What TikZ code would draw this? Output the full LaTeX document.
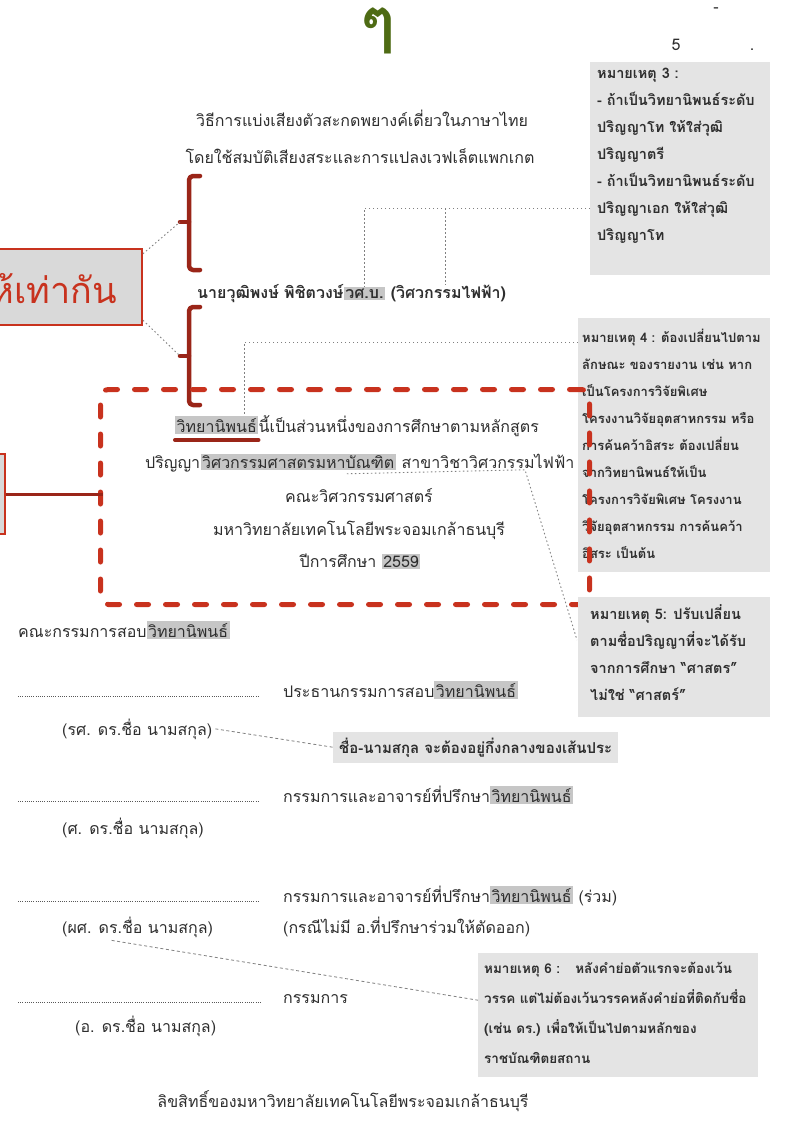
\documentclass[tikz,border=0pt]{standalone}
\usepackage{fontspec}
\setmainfont[Script=Thai]{Loma}
\usepackage{xcolor}
\usetikzlibrary{positioning}

\definecolor{inkgray}{HTML}{2E2E2E}
\definecolor{notegray}{HTML}{E4E4E4}
\definecolor{hlgray}{HTML}{C6C6C6}
\definecolor{boxfill}{HTML}{D9D9D9}
\definecolor{boxred}{HTML}{C8321E}
\definecolor{darkred}{HTML}{9A2518}
\definecolor{leafgreen}{HTML}{4E6B14}

\newcommand{\graymark}[1]{{\setlength{\fboxsep}{1.5pt}\colorbox{hlgray}{#1}}}

\tikzset{
  doc/.style={font=\fontsize{16}{19}\selectfont, text=inkgray, inner sep=0pt, anchor=base},
  notebox/.style={fill=notegray, anchor=north west, inner sep=0pt},
  notetext/.style={font=\fontsize{13.5}{27}\selectfont\bfseries, text=inkgray, align=left, anchor=north west, inner sep=0pt},
  leader/.style={inkgray!80, line width=0.6pt, dash pattern=on 0.8pt off 1.4pt},
  dotline/.style={gray, line width=0.9pt, dash pattern=on 1.5pt off 2.5pt},
  dashline/.style={gray, line width=0.8pt, dash pattern=on 3pt off 2.5pt},
  redbox/.style={draw=boxred, line width=2.5pt, fill=boxfill},
  bracket/.style={draw=darkred, line width=4.5pt, line cap=round, line join=round},
  reddash/.style={draw=boxred, line width=5pt, line cap=round, dash pattern=on 12pt off 17pt, rounded corners=8pt},
}

\begin{document}
\begin{tikzpicture}[x=1pt,y=-1pt]
\useasboundingbox (0,0) rectangle (795,1146);
\clip (0,0) rectangle (795,1146);
\fill[white] (0,0) rectangle (795,1146);

% top of page
\node[font=\fontsize{62}{62}\selectfont\bfseries, text=leafgreen, inner sep=0pt, anchor=base] (topmark) at (378,42) {ๆ};
\node[doc] (pgdash) at (716,12) {-};
\node[doc] (pgnum) at (676,50) {5};
\node[doc] (pgdot) at (752,50) {.};

% title and author
\node[doc] (titleA) at (362,126) {วิธีการแบ่งเสียงตัวสะกดพยางค์เดี่ยวในภาษาไทย};
\node[doc] (titleB) at (360,163) {โดยใช้สมบัติเสียงสระและการแปลงเวฟเล็ตแพกเกต};

\node[doc, anchor=base west, font=\fontsize{16}{19}\selectfont\bfseries] (author) at (197,298) {นายวุฒิพงษ์ พิชิตวงษ์~};
\node[doc, anchor=base west, font=\fontsize{16}{19}\selectfont\bfseries] (degree) at (author.base east) {\graymark{วศ.บ.}};
\node[doc, anchor=base west, font=\fontsize{16}{19}\selectfont\bfseries] (field) at (degree.base east) {~(วิศวกรรมไฟฟ้า)};

% note 3
\node[notebox, minimum width=180, minimum height=213] (note3) at (590,62) {};
\node[notetext, font=\fontsize{14.5}{27}\selectfont\bfseries] (note3txt) at (597,68) {หมายเหตุ 3 :\\
- ถ้าเป็นวิทยานิพนธ์ระดับ\\
ปริญญาโท ให้ใส่วุฒิ\\
ปริญญาตรี\\
- ถ้าเป็นวิทยานิพนธ์ระดับ\\
ปริญญาเอก ให้ใส่วุฒิ\\
ปริญญาโท};
\coordinate (n3hook) at (590,208);
\draw[dotline] (n3hook) -- (n3hook -| degree.north) -- (degree.north);
\draw[dotline] (n3hook -| field.north) -- (field.north);

% brackets and the box on the left
\draw[bracket, rounded corners=4pt] (200,176) -- (189,176) -- (189,270) -- (200,270);
\draw[bracket] (189,222) -- (180,222);
\draw[bracket, rounded corners=4pt] (200,307) -- (189,307) -- (189,405) -- (200,405);
\draw[bracket] (189,356) -- (180,356);
\coordinate (brtipA) at (180,222);
\coordinate (brtipB) at (180,356);

\node[redbox, anchor=east, minimum width=240, minimum height=76, text width=200, align=right,
  inner xsep=25pt, font=\fontsize{36}{40}\selectfont, text=boxred] (eqbox) at (143,287) {ให้เท่ากัน};
\draw[dotline] ([yshift=-6pt]eqbox.north east) -- (brtipA);
\draw[dotline] ([yshift=6pt]eqbox.south east) -- (brtipB);

% note 4
\node[notebox, minimum width=192, minimum height=254] (note4) at (578,318) {};
\node[notetext, font=\fontsize{13}{27}\selectfont\bfseries] (note4txt) at (582,329) {หมายเหตุ 4 : ต้องเปลี่ยนไปตาม\\
ลักษณะ ของรายงาน เช่น หาก\\
เป็นโครงการวิจัยพิเศษ\\
โครงงานวิจัยอุตสาหกรรม หรือ\\
การค้นคว้าอิสระ ต้องเปลี่ยน\\
จากวิทยานิพนธ์ให้เป็น\\
โครงการวิจัยพิเศษ โครงงาน\\
วิจัยอุตสาหกรรม การค้นคว้า\\
อิสระ เป็นต้น};

% thesis statement
\node[doc, anchor=base west] (thesisword) at (175,432) {\graymark{วิทยานิพนธ์}};
\node[doc, anchor=base west] (lineArest) at (thesisword.base east) {นี้เป็นส่วนหนึ่งของการศึกษาตามหลักสูตร};
\draw[darkred, line width=4pt, line cap=round] ([yshift=-8pt]thesisword.base west) -- ([yshift=-8pt]thesisword.base east);
\coordinate (n4hook) at (578,342);
\draw[dotline] (n4hook) -| ([xshift=-14pt]thesisword.north east);

\node[doc, anchor=base west] (degpre) at (145,468) {ปริญญา};
\node[doc, anchor=base west] (degname) at (degpre.base east) {\graymark{วิศวกรรมศาสตรมหาบัณฑิต}};
\node[doc, anchor=base west] (major) at (degname.base east) {~สาขาวิชาวิศวกรรมไฟฟ้า};
\node[doc] (faculty) at (359,502) {คณะวิศวกรรมศาสตร์};
\node[doc] (univ) at (359,535) {มหาวิทยาลัยเทคโนโลยีพระจอมเกล้าธนบุรี};
\node[doc] (acadyear) at (360,567) {ปีการศึกษา \graymark{2559}};

\node[reddash, anchor=north west, minimum width=489, minimum height=215] (dashbox) at (98,387) {};

\node[redbox, anchor=east, minimum width=120, minimum height=80] (sidebox) at (6,494) {};
\draw[darkred, line width=3pt] (sidebox.east) -- ([xshift=5pt]sidebox.east -| dashbox.west);

% note 5
\node[notebox, minimum width=192, minimum height=120] (note5) at (578,597) {};
\node[notetext, font=\fontsize{14.5}{27}\selectfont\bfseries] (note5txt) at (590,604) {หมายเหตุ 5: ปรับเปลี่ยน\\
ตามชื่อปริญญาที่จะได้รับ\\
จากการศึกษา ``ศาสตร''\\
ไม่ใช่ ``ศาสตร์''};
\coordinate (n5hook) at (577,640);
\draw[dotline] ([xshift=-49pt, yshift=-4pt]degname.south east) -- (degname.south east -| 525,0) -- (n5hook);

% committee
\node[doc, anchor=base west] (committee) at (18,637) {คณะกรรมการสอบ\graymark{วิทยานิพนธ์}};

\draw[leader] (18,696) -- (258,696);
\node[doc, anchor=base west] (chairrole) at (283,697) {ประธานกรรมการสอบ\graymark{วิทยานิพนธ์}};
\node[doc, anchor=base west] (chairname) at (62,735) {(รศ. ดร.ชื่อ นามสกุล)};
\node[doc, anchor=base west, fill=notegray, inner sep=6pt, font=\fontsize{15}{18}\selectfont\bfseries] (centernote) at (333,753) {ชื่อ-นามสกุล จะต้องอยู่กึ่งกลางของเส้นประ};
\draw[dashline] ([xshift=3pt]chairname.east) -- (centernote.west);

\draw[leader] (18,801) -- (258,801);
\node[doc, anchor=base west] (advrole) at (283,802) {กรรมการและอาจารย์ที่ปรึกษา\graymark{วิทยานิพนธ์}};
\node[doc, anchor=base west] (advname) at (62,834) {(ศ. ดร.ชื่อ นามสกุล)};

\draw[leader] (18,901) -- (258,901);
\node[doc, anchor=base west] (coadvrole) at (283,902) {กรรมการและอาจารย์ที่ปรึกษา\graymark{วิทยานิพนธ์} (ร่วม)};
\node[doc, anchor=base west] (coadvname) at (62,933) {(ผศ. ดร.ชื่อ นามสกุล)};
\node[doc, anchor=base west] (coadvnote) at (283,933) {(กรณีไม่มี อ.ที่ปรึกษาร่วมให้ตัดออก)};

\draw[leader] (18,1002) -- (262,1002);
\node[doc, anchor=base west] (memrole) at (283,1003) {กรรมการ};
\node[doc, anchor=base west] (memname) at (75,1032) {(อ. ดร.ชื่อ นามสกุล)};

% note 6
\node[notebox, minimum width=280, minimum height=124] (note6) at (478,953) {};
\node[notetext, font=\fontsize{13.5}{30}\selectfont\bfseries] (note6txt) at (484,962) {หมายเหตุ 6 :~~ หลังคำย่อตัวแรกจะต้องเว้น\\
วรรค แต่ไม่ต้องเว้นวรรคหลังคำย่อที่ติดกับชื่อ\\
(เช่น ดร.) เพื่อให้เป็นไปตามหลักของ\\
ราชบัณฑิตยสถาน};
\draw[dashline] ([xshift=-26pt, yshift=-3pt]coadvname.south) -- ([yshift=15pt]note6.west);

\node[doc] (copyright) at (343,1107) {ลิขสิทธิ์ของมหาวิทยาลัยเทคโนโลยีพระจอมเกล้าธนบุรี};
\end{tikzpicture}
\end{document}
